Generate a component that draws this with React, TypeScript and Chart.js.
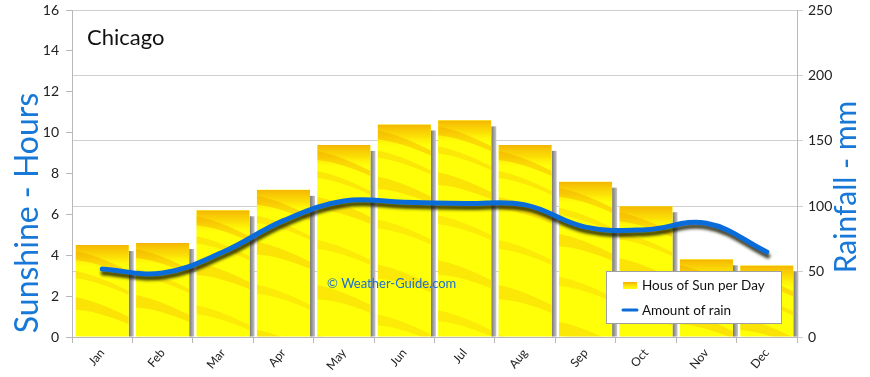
import React, { useEffect, useRef } from 'react';
import { Chart, registerables } from 'chart.js';

Chart.register(...registerables);

const months = ['Jan', 'Feb', 'Mar', 'Apr', 'May', 'Jun', 'Jul', 'Aug', 'Sep', 'Oct', 'Nov', 'Dec'];
const sunHours = [4.5, 4.6, 6.2, 7.2, 9.4, 10.4, 10.6, 9.4, 7.6, 6.4, 3.8, 3.5];
const rainMm = [52, 49, 65, 89, 104, 103, 102, 101, 84, 82, 87, 65];
const sunMax = 16;
const sunStep = 2;
const rainMax = 250;
const rainStep = 50;
const cityTitle = 'Chicago';
const leftTitle = 'Sunshine - Hours';
const rightTitle = 'Rainfall - mm';
const watermark = '© Weather-Guide.com';
const sunLabel = 'Hous of Sun per Day';
const rainLabel = 'Amount of rain';

const FONT = 'Lato, "Noto Sans", sans-serif';
const BLUE = '#1878d8';
const LINE_BLUE = '#0a6cd8';

function drawTexture(ctx: CanvasRenderingContext2D, x0: number, x1: number, top: number, bottom: number) {
  ctx.save();
  ctx.beginPath();
  ctx.rect(x0, top, x1 - x0, bottom - top);
  ctx.clip();
  const w = x1 - x0;
  const g = ctx.createLinearGradient(0, top, 0, top + 22);
  g.addColorStop(0, 'rgba(240,150,0,0.7)');
  g.addColorStop(0.55, 'rgba(245,175,0,0.4)');
  g.addColorStop(1, 'rgba(255,220,0,0)');
  ctx.fillStyle = g;
  ctx.fillRect(x0, top, w, 22);
  const streaks = [
    [6, 5, 0.4], [26, 4, 0.25], [52, 7, 0.3], [95, 5, 0.22], [140, 8, 0.25], [190, 6, 0.22], [240, 7, 0.25],
  ];
  for (const [off, th, a] of streaks) {
    ctx.fillStyle = `rgba(242,165,0,${a})`;
    ctx.beginPath();
    ctx.moveTo(x0, top + off);
    ctx.quadraticCurveTo(x0 + w * 0.4, top + off + 4, x1, top + off + 20);
    ctx.lineTo(x1, top + off + 20 + th);
    ctx.quadraticCurveTo(x0 + w * 0.4, top + off + 4 + th * 1.4, x0, top + off + th * 1.8);
    ctx.closePath();
    ctx.fill();
  }
  ctx.restore();
}

const decor = {
  id: 'decor',
  beforeDatasetsDraw(chart: any) {
    const ctx = chart.ctx as CanvasRenderingContext2D;
    const meta = chart.getDatasetMeta(0);
    ctx.save();
    meta.data.forEach((bar: any) => {
      const { x, y, base, width } = bar.getProps(['x', 'y', 'base', 'width'], true);
      const right = x + width / 2;
      const g = ctx.createLinearGradient(right, 0, right + 5, 0);
      g.addColorStop(0, '#747474');
      g.addColorStop(1, '#c8c8c8');
      ctx.fillStyle = g;
      ctx.fillRect(right, y + 6, 5, base - (y + 6));
    });
    ctx.restore();
  },
  beforeDatasetDraw(chart: any, args: any) {
    if (args.index === 1) {
      const ctx = chart.ctx as CanvasRenderingContext2D;
      ctx.save();
      ctx.shadowColor = 'rgba(25,25,0,0.8)';
      ctx.shadowBlur = 3;
      ctx.shadowOffsetX = 1;
      ctx.shadowOffsetY = 4;
    }
  },
  afterDatasetDraw(chart: any, args: any) {
    const ctx = chart.ctx as CanvasRenderingContext2D;
    if (args.index === 0) {
      const meta = chart.getDatasetMeta(0);
      meta.data.forEach((bar: any) => {
        const { x, y, base, width } = bar.getProps(['x', 'y', 'base', 'width'], true);
        drawTexture(ctx, x - width / 2, x + width / 2, y, base);
      });
    }
    if (args.index === 1) {
      ctx.restore();
    }
  },
  afterDraw(chart: any) {
    const ctx = chart.ctx as CanvasRenderingContext2D;
    const ca = chart.chartArea;
    ctx.save();
    ctx.fillStyle = '#111';
    ctx.font = `22px ${FONT}`;
    ctx.textAlign = 'left';
    ctx.textBaseline = 'alphabetic';
    ctx.fillText(cityTitle, ca.left + 15, ca.top + 35);
    ctx.fillStyle = '#1a6fd0';
    ctx.font = `13px ${FONT}`;
    ctx.textBaseline = 'middle';
    ctx.fillText(watermark, ca.left + 255, ca.top + 274);
    ctx.fillStyle = BLUE;
    ctx.font = `32px ${FONT}`;
    ctx.textAlign = 'center';
    ctx.save();
    ctx.translate(28, 213);
    ctx.rotate(-Math.PI / 2);
    ctx.fillText(leftTitle, 0, 0);
    ctx.restore();
    ctx.save();
    ctx.font = `30px ${FONT}`;
    ctx.translate(846, 187);
    ctx.rotate(-Math.PI / 2);
    ctx.fillText(rightTitle, 0, 0);
    ctx.restore();
    const lx = ca.right - 191, ly = ca.top + 261, lw = 175, lh = 52;
    ctx.fillStyle = '#ffffff';
    ctx.fillRect(lx, ly, lw, lh);
    ctx.strokeStyle = '#a0a0a0';
    ctx.lineWidth = 1;
    ctx.strokeRect(lx + 0.5, ly + 0.5, lw, lh);
    const sx = lx + 17, sy = ly + 11;
    ctx.fillStyle = '#ffff10';
    ctx.fillRect(sx, sy, 14, 7);
    const sg = ctx.createLinearGradient(0, sy, 0, sy + 7);
    sg.addColorStop(0, 'rgba(240,150,0,0.8)');
    sg.addColorStop(1, 'rgba(255,220,0,0.1)');
    ctx.fillStyle = sg;
    ctx.fillRect(sx, sy, 14, 7);
    ctx.strokeStyle = LINE_BLUE;
    ctx.lineWidth = 3;
    ctx.lineCap = 'round';
    ctx.beginPath();
    ctx.moveTo(lx + 17, ly + 39);
    ctx.lineTo(lx + 31, ly + 39);
    ctx.stroke();
    ctx.fillStyle = '#111';
    ctx.font = `13.5px ${FONT}`;
    ctx.textAlign = 'left';
    ctx.textBaseline = 'middle';
    ctx.fillText(sunLabel, lx + 36, ly + 15);
    ctx.fillText(rainLabel, lx + 36, ly + 40);
    ctx.restore();
  },
};

export default function App() {
  const ref = useRef<HTMLCanvasElement | null>(null);
  useEffect(() => {
    document.body.style.margin = '0';
    const canvas = ref.current;
    if (!canvas) return;
    const chart = new Chart(canvas, {
      type: 'bar',
      data: {
        labels: months,
        datasets: [
          {
            type: 'bar',
            label: sunLabel,
            data: sunHours,
            backgroundColor: '#ffff08',
            borderWidth: 0,
            barPercentage: 0.88,
            categoryPercentage: 1,
            yAxisID: 'y',
            order: 2,
          } as any,
          {
            type: 'line',
            label: rainLabel,
            data: rainMm,
            borderColor: LINE_BLUE,
            borderWidth: 5,
            pointRadius: 0,
            tension: 0.4,
            borderCapStyle: 'round',
            fill: false,
            yAxisID: 'y1',
            order: 1,
          } as any,
        ],
      },
      options: {
        responsive: false,
        devicePixelRatio: 1,
        animation: false,
        layout: { padding: { top: 10, left: 0, right: 0, bottom: 0 } },
        plugins: {
          legend: { display: false },
          tooltip: { enabled: false },
          title: { display: false },
        },
        scales: {
          x: {
            afterFit: (s: any) => { s.height = 40; s.paddingLeft = 0; s.paddingRight = 0; },
            grid: { drawOnChartArea: false, offset: true, tickLength: 6, color: '#b8b8b8' },
            border: { color: '#b8b8b8' },
            ticks: {
              minRotation: 50,
              maxRotation: 50,
              color: '#222',
              font: { family: FONT, size: 12 },
              padding: 3,
            },
          },
          y: {
            position: 'left',
            min: 0,
            max: sunMax,
            afterFit: (s: any) => { s.width = 72; s.paddingTop = 0; s.paddingBottom = 0; },
            grid: { drawOnChartArea: false, tickLength: 6, color: '#b8b8b8' },
            border: { color: '#b8b8b8' },
            ticks: { stepSize: sunStep, color: '#222', font: { family: FONT, size: 14 }, padding: 7 },
          },
          y1: {
            position: 'right',
            min: 0,
            max: rainMax,
            afterFit: (s: any) => { s.width = 73; s.paddingTop = 0; s.paddingBottom = 0; },
            grid: { drawOnChartArea: true, tickLength: 6, color: '#cfcfcf' },
            border: { color: '#b8b8b8' },
            ticks: { stepSize: rainStep, color: '#222', font: { family: FONT, size: 14 }, padding: 5 },
          },
        },
      } as any,
      plugins: [decor],
    });
    return () => chart.destroy();
  }, []);
  return (
    <div style={{ width: 870, height: 377 }}>
      <canvas ref={ref} width={870} height={377} style={{ display: 'block' }} />
    </div>
  );
}
